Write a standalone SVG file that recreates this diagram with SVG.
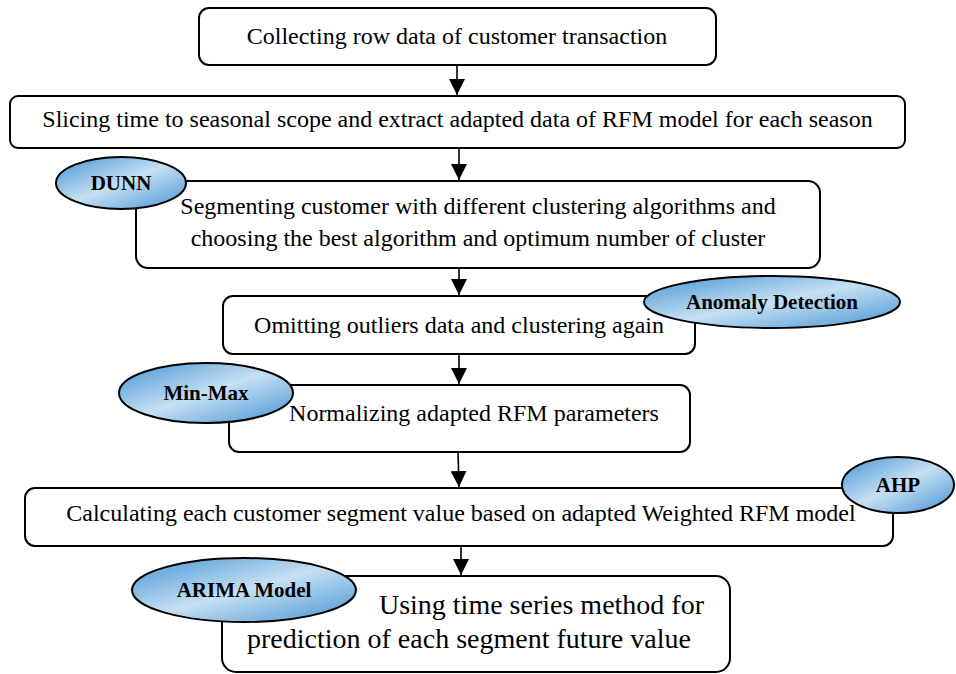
<svg xmlns="http://www.w3.org/2000/svg" width="956" height="674" viewBox="0 0 956 674">
<style>
.box{fill:#fff;stroke:#000;stroke-width:2}
.t{font-family:"Liberation Serif","Times New Roman",serif;font-size:24px;fill:#000;text-anchor:middle}
.ell{fill:url(#g);stroke:#000;stroke-width:2}
.el{font-family:"Liberation Serif","Times New Roman",serif;font-size:21px;font-weight:bold;fill:#000;text-anchor:middle}
.c{stroke:#000;stroke-width:1.6;fill:none;marker-end:url(#ah)}
</style>
<defs>
<linearGradient id="g" x1="0" y1="0" x2="1" y2="1">
<stop offset="0" stop-color="#4393d4"/>
<stop offset="0.5" stop-color="#c6e0f2"/>
<stop offset="1" stop-color="#4393d4"/>
</linearGradient>
<marker id="ah" markerWidth="16" markerHeight="16" viewBox="0 0 16 16" refX="16" refY="8" orient="auto" markerUnits="userSpaceOnUse">
<path d="M0,0 L16,8 L0,16 Z" fill="#000"/>
</marker>
</defs>
<g id="connectors">
<line class="c" x1="457" y1="65" x2="457" y2="95"/>
<line class="c" x1="459" y1="148" x2="459" y2="180"/>
<line class="c" x1="459" y1="268" x2="459" y2="295"/>
<line class="c" x1="459" y1="354" x2="459" y2="384"/>
<line class="c" x1="458" y1="452" x2="459" y2="487"/>
<line class="c" x1="461" y1="546" x2="461" y2="575"/>
</g>
<g id="n1">
<rect class="box" x="199" y="8" width="517" height="57" rx="10"/>
<text class="t" x="457" y="44">Collecting row data of customer transaction</text>
</g>
<g id="n2">
<rect class="box" x="10" y="96" width="895" height="52" rx="8"/>
<text class="t" x="457.5" y="127">Slicing time to seasonal scope and extract adapted data of RFM model for each season</text>
</g>
<g id="n3">
<rect class="box" x="136" y="181" width="684" height="87" rx="12"/>
<text class="t" x="478" y="214">Segmenting customer with different clustering algorithms and</text>
<text class="t" x="478" y="246">choosing the best algorithm and optimum number of cluster</text>
</g>
<g id="e-dunn">
<ellipse class="ell" cx="121" cy="183" rx="65" ry="26"/>
<text class="el" x="121" y="190">DUNN</text>
</g>
<g id="n4">
<rect class="box" x="223" y="296" width="472" height="58" rx="10"/>
<text class="t" x="459" y="333">Omitting outliers data and clustering again</text>
</g>
<g id="e-anomaly">
<ellipse class="ell" cx="772" cy="302" rx="128" ry="26"/>
<text class="el" x="772" y="309">Anomaly Detection</text>
</g>
<g id="n5">
<rect class="box" x="229" y="385" width="461" height="67" rx="10"/>
<text class="t" x="474" y="421">Normalizing adapted RFM parameters</text>
</g>
<g id="e-minmax">
<ellipse class="ell" cx="206" cy="393" rx="87" ry="30"/>
<text class="el" x="206" y="400">Min-Max</text>
</g>
<g id="n6">
<rect class="box" x="25" y="488" width="868" height="58" rx="10"/>
<text class="t" x="461" y="521">Calculating each customer segment value based on adapted Weighted RFM model</text>
</g>
<g id="e-ahp">
<ellipse class="ell" cx="898" cy="485" rx="56" ry="28"/>
<text class="el" x="898" y="492">AHP</text>
</g>
<g id="n7">
<rect class="box" x="222" y="576" width="508" height="96" rx="14"/>
<text class="t" x="704" y="614" style="text-anchor:end;font-size:28px">Using time series method for</text>
<text class="t" x="247" y="648" style="text-anchor:start;font-size:28px">prediction of each segment future value</text>
</g>
<g id="e-arima">
<ellipse class="ell" cx="244" cy="590" rx="112" ry="32"/>
<text class="el" x="244" y="597">ARIMA Model</text>
</g>
</svg>
